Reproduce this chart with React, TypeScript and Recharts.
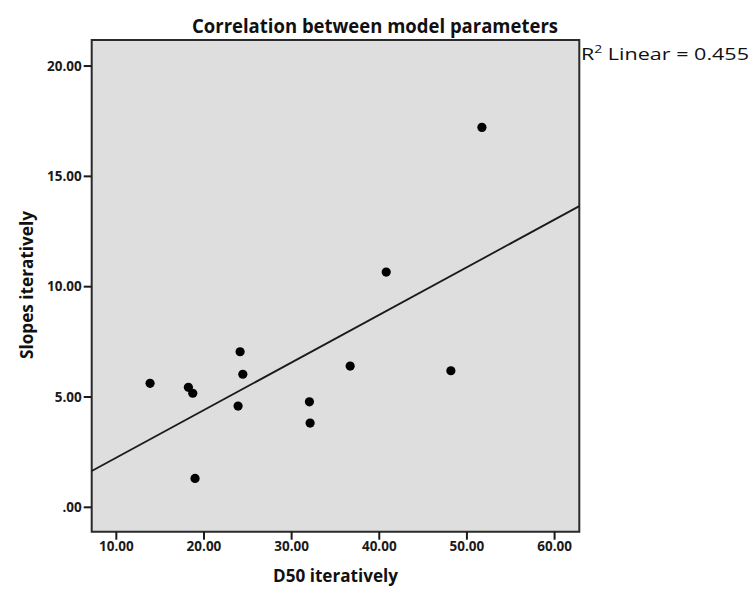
import React from "react";
import {
  ScatterChart,
  Scatter,
  XAxis,
  YAxis,
  CartesianGrid,
  ReferenceLine,
  ReferenceArea,
} from "recharts";

const d50Values = [13.85, 18.22, 18.72, 24.12, 24.43, 23.89, 32.03, 32.11, 36.68, 18.98, 51.71, 40.79, 48.17];
const slopeValues = [5.62, 5.44, 5.17, 7.05, 6.03, 4.59, 4.78, 3.82, 6.4, 1.31, 17.22, 10.66, 6.19];
const xTicks = [10, 20, 30, 40, 50, 60];
const yTicks = [0, 5, 10, 15, 20];
const xDomain = [7.19, 62.82];
const yDomain = [-1.105, 21.18];
const fitIntercept = 0.093;
const fitSlope = 0.2158;
const titleText = "Correlation between model parameters";
const xLabel = "D50 iteratively";
const yLabel = "Slopes iteratively";
const r2Value = "0.455";

const points = d50Values.map((x, i) => ({ x, y: slopeValues[i] }));

const fmt = (v: number) => (v === 0 ? ".00" : v.toFixed(2));

const tickStyle = {
  fill: "#1a1a1a",
  fontSize: 13.5,
  fontWeight: 700,
  fontFamily: "Open Sans",
};

const Dot = (p: any) => <circle cx={p.cx} cy={p.cy} r={4.6} fill="#000" />;

export default function App() {
  return (
    <div style={{ position: "absolute", left: 0, top: 0, width: 750, height: 599, background: "#fff" }}>
      <ScatterChart
        width={750}
        height={599}
        margin={{ top: 40, right: 170.7, left: 0, bottom: 0 }}
      >
        <CartesianGrid fill="#dedede" horizontal={false} vertical={false} />
        <XAxis
          type="number"
          dataKey="x"
          domain={xDomain}
          ticks={xTicks}
          tickFormatter={fmt}
          height={67.3}
          axisLine={false}
          tickLine={{ stroke: "#1a1a1a", strokeWidth: 2 }}
          tickSize={8}
          tick={tickStyle}
          allowDataOverflow
        />
        <YAxis
          type="number"
          dataKey="y"
          domain={yDomain}
          ticks={yTicks}
          tickFormatter={fmt}
          width={91.7}
          axisLine={false}
          tickLine={{ stroke: "#1a1a1a", strokeWidth: 2 }}
          tickSize={8}
          tick={tickStyle}
          allowDataOverflow
        />
        <ReferenceLine
          segment={[
            { x: xDomain[0], y: fitIntercept + fitSlope * xDomain[0] },
            { x: xDomain[1], y: fitIntercept + fitSlope * xDomain[1] },
          ]}
          stroke="#1a1a1a"
          strokeWidth={1.8}
        />
        <Scatter data={points} shape={Dot} isAnimationActive={false} />
        <ReferenceArea
          x1={xDomain[0]}
          x2={xDomain[1]}
          y1={yDomain[0]}
          y2={yDomain[1]}
          fill="none"
          stroke="#2a2a2a"
          strokeWidth={2}
          fillOpacity={0}
        />
      </ScatterChart>
      <svg
        width={750}
        height={599}
        style={{ position: "absolute", left: 0, top: 0, pointerEvents: "none" }}
      >
        <text
          x={375}
          y={33}
          textAnchor="middle"
          fontFamily="Open Sans"
          fontWeight={700}
          fontSize={20}
          fill="#111"
          textLength={366}
          lengthAdjust="spacingAndGlyphs"
        >
          {titleText}
        </text>
        <text x={581} y={60} fontFamily="Open Sans" fontSize={17} fill="#111" textLength={168} lengthAdjust="spacingAndGlyphs">
          R<tspan dy={-7} fontSize={11}>2</tspan>
          <tspan dy={7}>{" Linear = " + r2Value}</tspan>
        </text>
        <text
          x={335.5}
          y={582}
          textAnchor="middle"
          fontFamily="Open Sans"
          fontWeight={700}
          fontSize={17}
          fill="#111"
          textLength={125}
          lengthAdjust="spacingAndGlyphs"
        >
          {xLabel}
        </text>
        <text
          x={0}
          y={0}
          transform="translate(33,285) rotate(-90)"
          textAnchor="middle"
          fontFamily="Open Sans"
          fontWeight={700}
          fontSize={17}
          fill="#111"
          textLength={148}
          lengthAdjust="spacingAndGlyphs"
        >
          {yLabel}
        </text>
      </svg>
    </div>
  );
}
